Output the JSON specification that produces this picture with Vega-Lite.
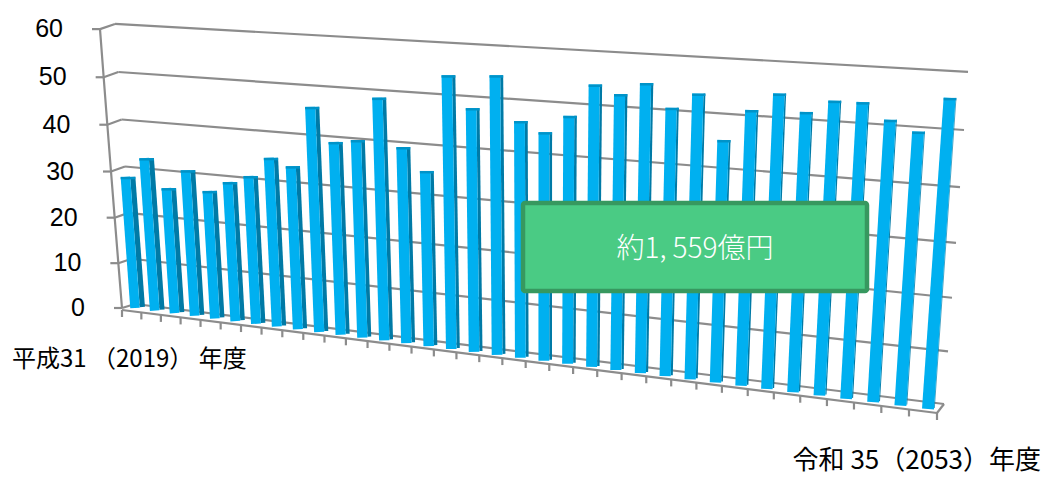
{
"$schema":"https://vega.github.io/schema/vega-lite/v6.json",
"width":1043,"height":477,"padding":0,
"autosize":{"type":"fit","contains":"padding"},
"background":"white",
"config":{"view":{"stroke":null}},
"datasets":{
"bars":[{"year":2019,"value":27.9},{"year":2020,"value":32.3},{"year":2021,"value":26.4},{"year":2022,"value":30.6},{"year":2023,"value":26.7},{"year":2024,"value":29.0},{"year":2025,"value":30.7},{"year":2026,"value":34.9},{"year":2027,"value":33.6},{"year":2028,"value":46.2},{"year":2029,"value":39.4},{"year":2030,"value":40.2},{"year":2031,"value":49.2},{"year":2032,"value":39.6},{"year":2033,"value":35.2},{"year":2034,"value":54.8},{"year":2035,"value":48.6},{"year":2036,"value":55.5},{"year":2037,"value":46.8},{"year":2038,"value":45.0},{"year":2039,"value":48.6},{"year":2040,"value":55.1},{"year":2041,"value":53.6},{"year":2042,"value":56.1},{"year":2043,"value":51.7},{"year":2044,"value":54.8},{"year":2045,"value":46.3},{"year":2046,"value":52.4},{"year":2047,"value":55.9},{"year":2048,"value":52.8},{"year":2049,"value":55.3},{"year":2050,"value":55.4},{"year":2051,"value":52.5},{"year":2052,"value":50.7},{"year":2053,"value":57.3}],
"levels":[{"v":0},{"v":10},{"v":20},{"v":30},{"v":40},{"v":50},{"v":60}],
"ticks":[{"j":0},{"j":1},{"j":2},{"j":3},{"j":4},{"j":5},{"j":6},{"j":7},{"j":8},{"j":9},{"j":10},{"j":11},{"j":12},{"j":13},{"j":14},{"j":15},{"j":16},{"j":17},{"j":18},{"j":19},{"j":20},{"j":21},{"j":22},{"j":23},{"j":24},{"j":25},{"j":26},{"j":27},{"j":28},{"j":29},{"j":30},{"j":31},{"j":32},{"j":33},{"j":34},{"j":35}]
},
"layer":[
{"data":{"name":"levels"},
 "transform":[{"calculate":"135-datum.v/3","as":"blx"},{"calculate":"304-4.5*datum.v-0.0028*datum.v*datum.v","as":"bly"},{"calculate":"944+0.4*datum.v","as":"brx"},{"calculate":"404-5.2*datum.v-0.0056*datum.v*datum.v","as":"bry"}],
 "mark":{"type":"rule","color":"#8C8C8C","strokeWidth":2.2},
 "encoding":{"x":{"field":"blx","type":"quantitative","axis":null,"scale":{"domain":[0,1043],"nice":false,"zero":false}},"y":{"field":"bly","type":"quantitative","axis":null,"scale":{"domain":[477,0],"nice":false,"zero":false}},"x2":{"field":"brx"},"y2":{"field":"bry"}}},
{"data":{"name":"levels"},
 "transform":[{"calculate":"135-datum.v/3","as":"blx"},{"calculate":"304-4.5*datum.v-0.0028*datum.v*datum.v","as":"bly"},{"calculate":"122-22*datum.v/60","as":"fx"},{"calculate":"308-4.45*datum.v-0.0033*datum.v*datum.v","as":"fy"}],
 "mark":{"type":"rule","color":"#8C8C8C","strokeWidth":2.2},
 "encoding":{"x":{"field":"fx","type":"quantitative","axis":null},"y":{"field":"fy","type":"quantitative","axis":null},"x2":{"field":"blx"},"y2":{"field":"bly"}}},
{"data":{"name":"levels"},
 "transform":[{"calculate":"122-22*datum.v/60","as":"fx"},{"calculate":"308-4.45*datum.v-0.0033*datum.v*datum.v","as":"fy"},{"calculate":"datum.fx-8","as":"tx"}],
 "mark":{"type":"rule","color":"#8C8C8C","strokeWidth":2.2},
 "encoding":{"x":{"field":"fx","type":"quantitative","axis":null},"y":{"field":"fy","type":"quantitative","axis":null},"x2":{"field":"tx"}}},
{"data":{"name":"levels"},
 "transform":[{"calculate":"122-22*datum.v/60","as":"fx"},{"calculate":"308-4.45*datum.v-0.0033*datum.v*datum.v","as":"fy"}],
 "mark":{"type":"line","color":"#8C8C8C","strokeWidth":2.2},
 "encoding":{"x":{"field":"fx","type":"quantitative","axis":null},"y":{"field":"fy","type":"quantitative","axis":null},"order":{"field":"v"}}},
{"data":{"name":"levels"},
 "transform":[{"calculate":"122-22*datum.v/60-37","as":"fx"},{"calculate":"308-4.45*datum.v-0.0033*datum.v*datum.v","as":"fy"}],
 "mark":{"type":"text","align":"right","baseline":"middle","font":"Liberation Sans","fontSize":25,"color":"#000000"},
 "encoding":{"x":{"field":"fx","type":"quantitative","axis":null},"y":{"field":"fy","type":"quantitative","axis":null},"text":{"field":"v","type":"nominal"}}},
{"data":{"name":"ticks"},
 "transform":[{"calculate":"datum.j/(42.35-0.21*datum.j)","as":"u"},{"calculate":"122+815*datum.u","as":"x"},{"calculate":"310+103*datum.u","as":"y0"},{"calculate":"datum.y0+7","as":"y1"},{"calculate":"datum.x+0","as":"x1"}],
 "mark":{"type":"rule","color":"#8C8C8C","strokeWidth":2.2},
 "encoding":{"x":{"field":"x","type":"quantitative","axis":null},"y":{"field":"y0","type":"quantitative","axis":null},"x2":{"field":"x1"},"y2":{"field":"y1"}}},
{"data":{"name":"ticks"},
 "transform":[{"filter":"datum.j==0||datum.j==35"},{"calculate":"datum.j/(42.35-0.21*datum.j)","as":"u"},{"calculate":"122+815*datum.u","as":"x"},{"calculate":"310+103*datum.u","as":"y0"}],
 "mark":{"type":"line","color":"#8C8C8C","strokeWidth":2.2},
 "encoding":{"x":{"field":"x","type":"quantitative","axis":null},"y":{"field":"y0","type":"quantitative","axis":null},"order":{"field":"j"}}},
{"data":{"name":"ticks"},
 "transform":[{"filter":"datum.j==35"},{"calculate":"937","as":"a"},{"calculate":"413","as":"b"},{"calculate":"944","as":"c"},{"calculate":"404","as":"d"}],
 "mark":{"type":"rule","color":"#8C8C8C","strokeWidth":2.2},
 "encoding":{"x":{"field":"a","type":"quantitative","axis":null},"y":{"field":"b","type":"quantitative","axis":null},"x2":{"field":"c"},"y2":{"field":"d"}}},
{"data":{"name":"bars"},
 "transform":[{"calculate":"datum.year-2019","as":"i"},{"calculate":"datum.i/(39.27-0.155*datum.i)","as":"u"},{"calculate":"135+793*datum.i/(40.46-0.19*datum.i)","as":"xb"},{"calculate":"308+101*datum.u","as":"yb"},{"calculate":"4.7*39.27/(39.27-0.155*datum.i)","as":"s"},{"calculate":"datum.yb-datum.value*datum.s","as":"ty"},{"calculate":"-0.075+(datum.xb-125)*0.00018","as":"lean"},{"calculate":"datum.xb+(datum.yb-datum.ty)*datum.lean","as":"tx"},{"calculate":"9.5+2.5*datum.i/34","as":"wf"},{"calculate":"4.5*(1-datum.i/34)+0.7","as":"ws"},{"calculate":"(datum.wf+datum.ws)/2","as":"off"},{"calculate":"datum.xb+datum.off","as":"sxb"},{"calculate":"datum.tx+datum.off","as":"sxt"},{"calculate":"datum.yb-1","as":"syb"},{"calculate":"datum.tx-datum.wf/2","as":"cl"},{"calculate":"datum.tx+datum.wf/2+datum.ws","as":"cr"},{"calculate":"datum.ty+1.2","as":"cy"}],
 "layer":[
  {"mark":{"type":"rule","color":"#007AA6"},
   "encoding":{"x":{"field":"sxb","type":"quantitative","axis":null},"y":{"field":"syb","type":"quantitative","axis":null},"x2":{"field":"sxt"},"y2":{"field":"ty"},"size":{"field":"ws","type":"quantitative","scale":null,"legend":null}}},
  {"mark":{"type":"rule","color":"#00B0F0"},
   "encoding":{"x":{"field":"xb","type":"quantitative","axis":null},"y":{"field":"yb","type":"quantitative","axis":null},"x2":{"field":"tx"},"y2":{"field":"ty"},"size":{"field":"wf","type":"quantitative","scale":null,"legend":null}}},
  {"mark":{"type":"rule","color":"#0093C8","strokeWidth":2.5},
   "encoding":{"x":{"field":"cl","type":"quantitative","axis":null},"y":{"field":"cy","type":"quantitative","axis":null},"x2":{"field":"cr"}}}
 ]},
{"data":{"values":[{"label":"約1, 559億円"}]},
 "mark":{"type":"rect","fill":"#4ACB84","stroke":"#37985F","strokeWidth":4.5,"cornerRadius":2},
 "encoding":{"x":{"datum":523,"type":"quantitative","axis":null},"x2":{"datum":867},"y":{"datum":203,"type":"quantitative","axis":null},"y2":{"datum":291}}},
{"data":{"values":[{"label":"約1, 559億円"}]},
 "mark":{"type":"text","align":"center","baseline":"middle","font":"Noto Sans CJK JP","fontSize":28,"fontWeight":300,"color":"#FFFFFF"},
 "encoding":{"x":{"datum":695,"type":"quantitative","axis":null},"y":{"datum":250,"type":"quantitative","axis":null},"text":{"field":"label"}}},
{"data":{"values":[{"label":"平成31 （2019） 年度"}]},
 "mark":{"type":"text","align":"left","baseline":"middle","font":"Noto Sans CJK JP","fontSize":24,"color":"#000000"},
 "encoding":{"x":{"datum":12,"type":"quantitative","axis":null},"y":{"datum":360,"type":"quantitative","axis":null},"text":{"field":"label"}}},
{"data":{"values":[{"label":"令和 35（2053）年度"}]},
 "mark":{"type":"text","align":"right","baseline":"middle","font":"Noto Sans CJK JP","fontSize":26,"color":"#000000"},
 "encoding":{"x":{"datum":1041,"type":"quantitative","axis":null},"y":{"datum":461,"type":"quantitative","axis":null},"text":{"field":"label"}}}
]
}
